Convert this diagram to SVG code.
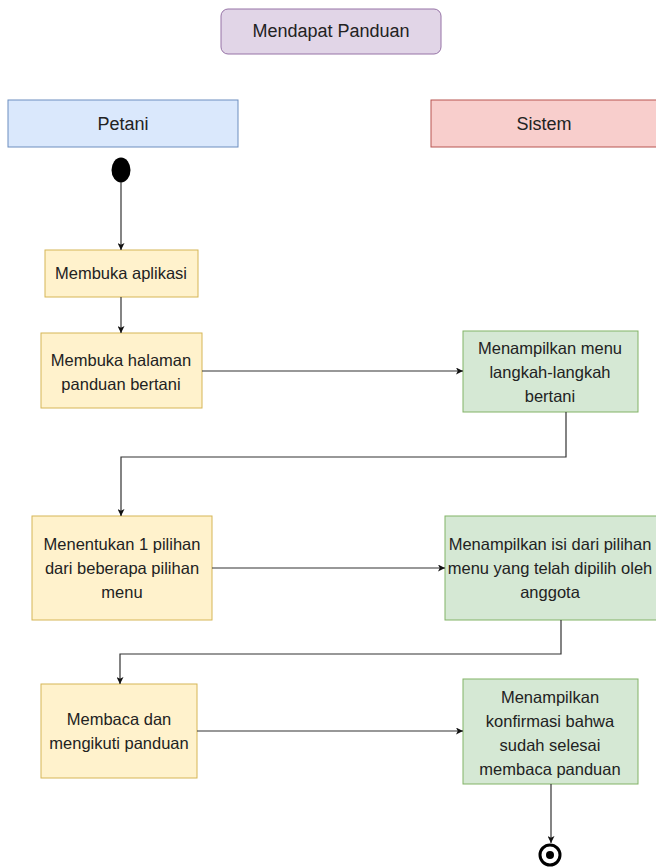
<svg xmlns="http://www.w3.org/2000/svg" width="656" height="868" viewBox="0 0 656 868">
<style>
text{font-family:"Liberation Sans",Arial,sans-serif;font-size:16.5px;fill:#222;text-anchor:middle;dominant-baseline:central}
.t{font-size:18px}
.act{fill:#fff2cc;stroke:#d6b656;stroke-width:1}
.sys{fill:#d5e8d4;stroke:#82b366;stroke-width:1}
.ln{fill:none;stroke:#333;stroke-width:1.2;marker-end:url(#ah)}
</style>
<defs>
<marker id="ah" viewBox="0 0 10 10" refX="10" refY="5" markerWidth="7" markerHeight="7" orient="auto" markerUnits="userSpaceOnUse">
<path d="M0,0 L10,5 L0,10 L2.5,5 Z" fill="#111"/>
</marker>
</defs>
<rect width="656" height="868" fill="#fff"/>
<g id="title"><rect x="221" y="9" width="220" height="45" rx="7" fill="#e1d5e7" stroke="#9673a6"/><text class="t" x="331" y="31">Mendapat Panduan</text></g>
<g id="petani"><rect x="8" y="100" width="230" height="47" fill="#dae8fc" stroke="#6c8ebf"/><text class="t" x="123" y="124">Petani</text></g>
<g id="sistem"><rect x="431" y="100" width="230" height="47" fill="#f8cecc" stroke="#b85450"/><text class="t" x="544" y="124">Sistem</text></g>
<g id="start"><ellipse cx="121" cy="170" rx="9.5" ry="12.5" fill="#000"/></g>
<g id="n1"><rect class="act" x="45" y="250" width="153" height="47"/><text x="121" y="273">Membuka aplikasi</text></g>
<g id="n2"><rect class="act" x="41" y="333" width="161" height="75"/><text x="121" y="360">Membuka halaman</text><text x="121" y="384">panduan bertani</text></g>
<g id="n3"><rect class="sys" x="463" y="331" width="175" height="81"/><text x="550" y="348">Menampilkan menu</text><text x="550" y="372">langkah-langkah</text><text x="550" y="396">bertani</text></g>
<g id="n4"><rect class="act" x="32" y="516" width="180" height="104"/><text x="122" y="544">Menentukan 1 pilihan</text><text x="122" y="568">dari beberapa pilihan</text><text x="122" y="592">menu</text></g>
<g id="n5"><rect class="sys" x="445" y="516" width="220" height="104"/><text x="550" y="544">Menampilkan isi dari pilihan</text><text x="550" y="568">menu yang telah dipilih oleh</text><text x="550" y="592">anggota</text></g>
<g id="n6"><rect class="act" x="41" y="684" width="156" height="94"/><text x="119" y="719">Membaca dan</text><text x="119" y="743">mengikuti panduan</text></g>
<g id="n7"><rect class="sys" x="463" y="679" width="175" height="105"/><text x="550" y="697">Menampilkan</text><text x="550" y="721">konfirmasi bahwa</text><text x="550" y="745">sudah selesai</text><text x="550" y="769">membaca panduan</text></g>
<g id="end"><circle cx="550" cy="855" r="10" fill="#fff" stroke="#000" stroke-width="3"/><circle cx="550" cy="855" r="4" fill="#000"/></g>
<g id="connectors">
<path class="ln" d="M121,182 V250"/>
<path class="ln" d="M121,297 V333"/>
<path class="ln" d="M202,371 H463"/>
<path class="ln" d="M566,412 V457 H121 V516"/>
<path class="ln" d="M212,568 H445"/>
<path class="ln" d="M561,620 V654 H120 V684"/>
<path class="ln" d="M197,731 H463"/>
<path class="ln" d="M551,784 V843"/>
</g>
</svg>
